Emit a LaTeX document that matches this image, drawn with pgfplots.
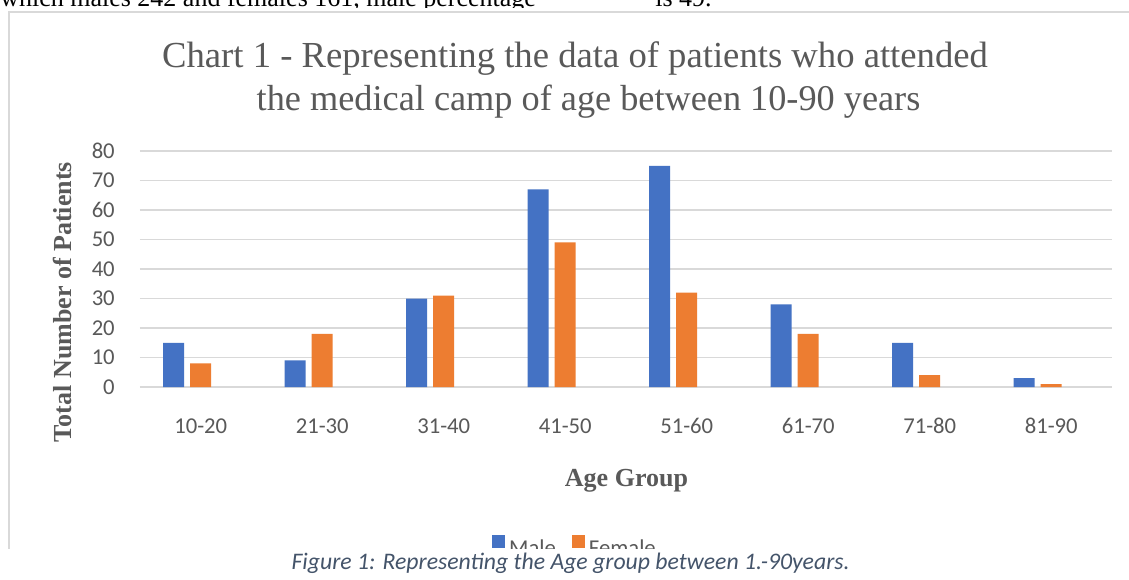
\documentclass[border=0pt]{standalone}
\usepackage{fontspec}
\setmainfont{Liberation Serif}
\newfontfamily\carlito{Carlito}
\usepackage{pgfplots}
\pgfplotsset{compat=1.18}
\definecolor{male}{HTML}{4472C4}
\definecolor{female}{HTML}{ED7D31}
\definecolor{gridc}{HTML}{D9D9D9}
\definecolor{txt}{HTML}{595959}
\definecolor{cap}{HTML}{44546A}
\begin{document}
\begin{tikzpicture}
\useasboundingbox (0,0) rectangle (846.75pt,-434.25pt);
\fill[white] (0,0) rectangle (846.75pt,-434.25pt);
\begin{scope}
\clip (0,0) rectangle (846.75pt,-5.5pt);
\node[anchor=base west, inner sep=0pt, font=\fontsize{19.5}{22}\selectfont] at (0pt,-4.5pt) {which males 242 and females 161, male percentage};
\node[anchor=base west, inner sep=0pt, font=\fontsize{19.5}{22}\selectfont] at (491.25pt,-4.5pt) {is 49.};
\end{scope}
\draw[gridc, line width=1.5pt] (6.75pt,-411.75pt) -- (6.75pt,-9pt) -- (846.75pt,-9pt);
\node[anchor=base, inner sep=0pt, font=\fontsize{27.5}{32}\selectfont, text=txt] at (431.25pt,-50.5pt) {Chart 1 - Representing the data of patients who attended};
\node[anchor=base, inner sep=0pt, font=\fontsize{27.2}{32}\selectfont, text=txt] at (441.4pt,-83pt) {the medical camp of age between 10-90 years};
\begin{axis}[
  at={(105pt,-290.25pt)}, anchor=south west,
  scale only axis, width=729pt, height=177pt,
  xmin=-0.5, xmax=7.5, ymin=0, ymax=80,
  ybar, bar width=15.75pt,
  xtick={0,...,7},
  xticklabels={10-20,21-30,31-40,41-50,51-60,61-70,71-80,81-90},
  ytick={0,10,...,80},
  ymajorgrids, grid style={gridc, line width=1.1pt},
  axis line style={draw=none}, major tick length=0pt,
  tick label style={font=\carlito\fontsize{17}{20}\selectfont, text=txt},
  /pgf/number format/assume math mode=true,
  xticklabel style={anchor=base, yshift=-34.5pt},
  yticklabel style={anchor=east, inner sep=0pt, xshift=-18.75pt},
  xlabel={Age Group}, ylabel={Total Number of Patients},
  label style={font=\bfseries\fontsize{19.5}{22}\selectfont, text=txt},
  xlabel style={at={(axis description cs:0.5005,-0.4195)}, anchor=base},
  ylabel style={at={(axis description cs:-0.0802,0.36)}, anchor=center},
  legend style={at={(axis description cs:0.3621,-0.627)}, anchor=north west,
    draw=none, fill=none, inner sep=0pt, legend columns=2,
    font=\carlito\fontsize{17}{20}\selectfont, text=txt,
    nodes={inner xsep=1pt, inner ysep=1.2pt},
    /tikz/every odd column/.append style={column sep=2pt},
    /tikz/every even column/.append style={column sep=11pt}},
  legend image code/.code={\fill[#1] (0pt,0pt) rectangle (9.75pt,9.75pt);},
]
\addplot[fill=male, draw=none, bar shift=-20.25pt] coordinates {(0,15) (1,9) (2,30) (3,67) (4,75) (5,28) (6,15) (7,3)};
\addplot[fill=female, draw=none, bar shift=0pt] coordinates {(0,8) (1,18) (2,31) (3,49) (4,32) (5,18) (6,4) (7,1)};
\legend{Male, Female}
\end{axis}
\fill[white] (0,-411.75pt) rectangle (846.75pt,-434.25pt);
\node[anchor=base, inner sep=0pt, font=\carlito\itshape\fontsize{17.8}{20}\selectfont, text=cap] at (427.9pt,-426.75pt) {Figure 1: Representing the Age group between 1.-90years.};
\end{tikzpicture}
\end{document}
